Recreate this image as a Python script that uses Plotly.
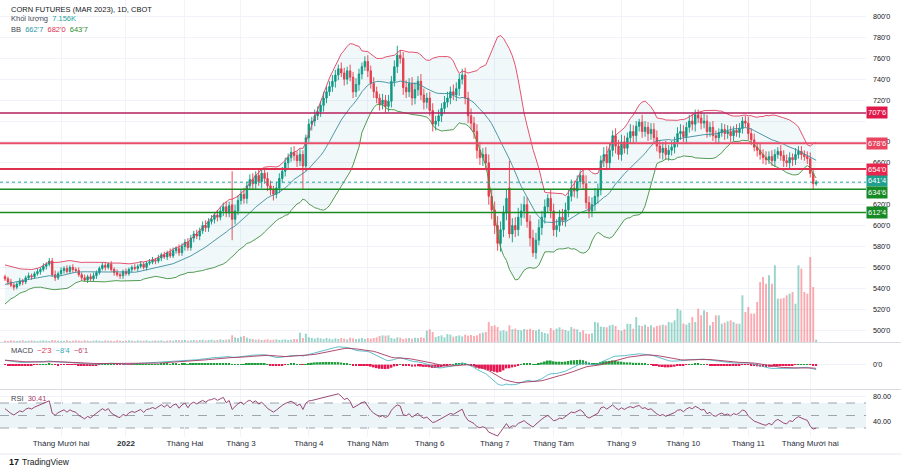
import numpy as np
import pandas as pd
import plotly.graph_objects as go

# ---------------- data ----------------
# closes before the first visible bar (only used to warm up the indicators)
WARM = [512, 515, 514, 518, 516, 520, 522, 519, 524, 527, 525, 529, 532, 530, 528, 533, 536, 534, 530, 527,
        524, 526, 529, 533, 531, 535, 538, 541, 537, 540, 544, 548, 546, 552, 556, 554, 558, 553, 550, 552]

CLOSE = [549, 546, 543, 541, 544, 547, 546, 550, 552, 551,
         554, 556, 558, 561, 563, 566, 553, 550, 554, 557,
         559, 556, 560, 558, 557, 553, 550, 548, 551, 549,
         552, 555, 559, 562, 560, 563, 558, 555, 553, 552,
         556, 554, 558, 560, 559, 561, 563, 560, 564, 565,
         567, 566, 569, 572, 570, 574, 571, 576, 578, 574,
         580, 584, 579, 588, 592, 590, 595, 600, 598, 604,
         606, 610, 608, 614, 618, 612, 619, 606, 614, 624,
         630, 626, 638, 644, 640, 648, 642, 650, 645, 638,
         634, 630, 636, 645, 652, 660, 665, 670, 667, 662,
         668, 657, 684, 697, 700, 705, 709, 715, 722, 728,
         733, 738, 744, 750, 746, 740, 748, 742, 728, 735,
         745, 752, 757, 748, 736, 728, 722, 716, 720, 714,
         719, 738, 752, 763, 760, 732, 728, 736, 722, 730,
         738, 725, 718, 722, 710, 697, 700, 705, 712, 718,
         722, 728, 725, 731, 740, 744, 722, 705, 698, 690,
         672, 665, 668, 660, 628, 615, 600, 583, 596, 612,
         626, 592, 600, 596, 608, 614, 620, 604, 588, 574,
         586, 598, 608, 618, 626, 614, 596, 600, 608, 605,
         615, 628, 636, 633, 642, 648, 640, 622, 614, 620,
         628, 634, 662, 668, 660, 672, 686, 676, 668, 680,
         674, 684, 690, 686, 695, 699, 690, 694, 688, 692,
         684, 676, 670, 674, 668, 672, 675, 680, 688, 690,
         685, 694, 700, 697, 706, 703, 698, 700, 690, 694,
         686, 684, 689, 692, 688, 690, 686, 691, 689, 693,
         700, 698, 688, 682, 675, 672, 668, 665, 663, 666,
         662, 668, 671, 667, 662, 660, 665, 663, 668, 671,
         668, 666, 664, 650, 640, 641.5]

OPEN = [551, 549, 546, 543, 541, 544, 547, 546, 550, 552,
        551, 554, 556, 558, 561, 563, 566, 553, 550, 554,
        557, 559, 556, 560, 558, 557, 553, 550, 548, 551,
        549, 552, 555, 559, 562, 560, 563, 558, 555, 553,
        552, 556, 554, 558, 560, 559, 561, 563, 560, 564,
        565, 567, 566, 569, 572, 570, 574, 571, 576, 578,
        574, 580, 584, 579, 588, 592, 590, 595, 600, 598,
        604, 606, 610, 608, 614, 618, 612, 620, 606, 614,
        624, 630, 626, 638, 644, 640, 648, 642, 650, 645,
        638, 634, 630, 636, 645, 652, 660, 665, 670, 667,
        662, 668, 657, 684, 697, 700, 705, 709, 715, 722,
        728, 733, 738, 744, 750, 746, 740, 748, 742, 728,
        735, 745, 752, 757, 748, 736, 728, 722, 716, 720,
        714, 719, 738, 752, 763, 760, 732, 728, 736, 722,
        730, 738, 725, 718, 722, 710, 697, 700, 705, 712,
        718, 722, 728, 725, 731, 740, 744, 722, 705, 698,
        690, 672, 665, 668, 660, 628, 615, 600, 583, 596,
        612, 636, 592, 600, 596, 608, 614, 620, 604, 588,
        574, 586, 598, 608, 618, 626, 614, 596, 600, 608,
        605, 615, 628, 636, 633, 642, 648, 640, 622, 614,
        620, 628, 634, 662, 668, 660, 672, 686, 676, 668,
        680, 674, 684, 690, 686, 695, 699, 690, 694, 688,
        692, 684, 676, 670, 674, 668, 672, 675, 680, 688,
        690, 685, 694, 700, 697, 706, 703, 698, 700, 690,
        694, 686, 684, 689, 692, 688, 690, 686, 691, 689,
        693, 700, 698, 688, 682, 675, 672, 668, 665, 663,
        666, 662, 668, 671, 667, 662, 660, 665, 663, 668,
        671, 668, 666, 664, 650, 640]

# upper / lower wick lengths of each candle
UPPER_WICK = [2, 2, 3, 2, 2, 3, 2, 2, 3, 2, 2, 3, 2, 3, 2, 3, 3, 4, 2, 3,
              2, 3, 2, 3, 2, 3, 2, 3, 2, 3, 3, 2, 2, 3, 3, 2, 3, 2, 3, 2,
              2, 3, 2, 2, 3, 2, 3, 2, 2, 3, 3, 2, 3, 2, 3, 2, 4, 3, 2, 4,
              3, 3, 4, 3, 3, 4, 3, 4, 5, 3, 4, 3, 5, 4, 4, 5, 4, 32, 6, 5,
              5, 6, 4, 5, 6, 4, 6, 5, 4, 6, 5, 4, 6, 5, 4, 5, 4, 5, 6, 4,
              5, 4, 3, 5, 4, 6, 5, 4, 6, 5, 5, 6, 5, 4, 6, 5, 4, 6, 5, 6,
              5, 4, 5, 6, 5, 6, 5, 4, 6, 5, 6, 5, 6, 9, 5, 6, 7, 5, 6, 7,
              5, 7, 6, 5, 6, 7, 5, 6, 5, 6, 6, 5, 7, 6, 5, 6, 7, 6, 7, 6,
              7, 8, 6, 7, 8, 7, 8, 9, 8, 7, 8, 26, 7, 8, 9, 7, 8, 7, 6, 8,
              7, 8, 6, 7, 4, 8, 7, 6, 7, 8, 7, 6, 8, 7, 6, 5, 7, 8, 6, 7,
              8, 6, 5, 7, 8, 6, 5, 7, 6, 7, 6, 5, 7, 6, 5, 3, 7, 6, 5, 6,
              6, 7, 5, 6, 7, 5, 6, 5, 6, 7, 6, 5, 6, 7, 5, 5, 6, 7, 6, 5,
              6, 5, 4, 6, 5, 6, 5, 4, 6, 5, 4, 5, 6, 5, 6, 5, 6, 5, 6, 5,
              6, 5, 4, 6, 5, 6, 5, 4, 6, 5, 5, 4, 5, 6, 4, 2]
LOWER_WICK = [2, 3, 2, 3, 2, 2, 3, 2, 2, 3, 2, 2, 3, 2, 3, 2, 2, 3, 2, 2,
              3, 2, 2, 3, 2, 2, 3, 2, 3, 2, 2, 3, 2, 2, 3, 2, 2, 3, 2, 3,
              3, 2, 2, 3, 2, 3, 2, 2, 3, 2, 2, 3, 2, 3, 2, 3, 2, 2, 3, 3,
              3, 4, 3, 3, 4, 3, 4, 3, 4, 4, 3, 4, 4, 3, 5, 4, 4, 20, 5, 4,
              4, 5, 5, 4, 6, 5, 4, 6, 5, 5, 5, 6, 4, 5, 4, 5, 6, 4, 5, 6,
              5, 22, 5, 4, 6, 5, 4, 5, 6, 5, 4, 5, 6, 5, 4, 6, 5, 4, 6, 5,
              6, 5, 4, 6, 5, 6, 5, 6, 5, 6, 5, 6, 5, 6, 5, 7, 6, 5, 7, 6,
              6, 5, 7, 6, 5, 7, 6, 5, 6, 5, 5, 6, 5, 6, 7, 5, 6, 7, 6, 7,
              8, 7, 8, 7, 8, 9, 8, 7, 8, 7, 7, 4, 8, 7, 6, 8, 7, 6, 8, 4,
              6, 5, 7, 6, 5, 7, 6, 7, 6, 5, 6, 7, 5, 6, 7, 6, 5, 6, 7, 6,
              6, 7, 5, 6, 7, 5, 6, 7, 5, 6, 5, 6, 5, 7, 6, 5, 6, 5, 7, 6,
              6, 5, 6, 7, 5, 6, 5, 6, 5, 6, 5, 6, 5, 6, 7, 5, 6, 5, 6, 5,
              5, 6, 5, 4, 6, 5, 6, 5, 4, 5, 5, 4, 6, 5, 4, 6, 5, 6, 5, 4,
              5, 6, 4, 5, 6, 4, 5, 6, 5, 4, 5, 4, 5, 4, 6, 2]

# volume in thousands of contracts
VOLUME = [4, 3, 5, 4, 3, 4, 5, 3, 4, 5, 4, 3, 4, 5, 4, 3, 6, 5, 4, 3,
          4, 5, 3, 4, 5, 4, 3, 5, 4, 3, 4, 5, 4, 3, 5, 4, 4, 3, 5, 4,
          3, 4, 5, 4, 3, 5, 4, 4, 5, 3, 4, 5, 4, 5, 3, 4, 5, 4, 6, 5,
          5, 6, 4, 5, 6, 5, 6, 7, 5, 6, 7, 5, 6, 8, 6, 7, 8, 20, 14, 12,
          16, 18, 13, 10, 9, 7, 8, 6, 7, 8, 6, 7, 8, 6, 7, 8, 6, 7, 9, 8,
          28, 12, 25, 14, 12, 10, 13, 11, 9, 12, 10, 8, 11, 9, 12, 10, 8, 13, 11, 9,
          10, 12, 9, 11, 10, 12, 14, 18, 20, 19, 20, 12, 10, 14, 13, 9, 11, 12, 10, 13,
          11, 14, 12, 34, 38, 30, 15, 18, 20, 14, 24, 22, 16, 18, 20, 17, 22, 19, 21, 18,
          20, 26, 28, 30, 60, 48, 50, 45, 33, 35, 32, 50, 38, 40, 36, 35, 39, 37, 40, 36,
          34, 38, 30, 27, 25, 42, 35, 40, 44, 38, 36, 33, 45, 40, 38, 30, 35, 25, 24, 26,
          60, 58, 46, 45, 44, 50, 52, 48, 36, 34, 38, 55, 54, 40, 75, 50, 48, 52, 46, 50,
          44, 48, 50, 52, 50, 60, 58, 65, 100, 95, 55, 52, 58, 75, 60, 100, 80, 95, 90, 50,
          60, 80, 80, 55, 58, 62, 65, 60, 55, 55, 140, 90, 105, 85, 85, 120, 180, 195, 175, 200,
          175, 230, 130, 130, 132, 140, 145, 150, 115, 230, 220, 150, 145, 255, 165, 7.156]

MONTH_IDX = [19, 41, 61, 80, 103, 123, 144, 166, 186, 209, 230, 252, 273]
MONTH_LABELS = ["Tháng Mười hai", "<b>2022</b>", "Tháng Hai", "Tháng 3", "Tháng 4", "Tháng Năm",
                "Tháng 6", "Tháng 7", "Tháng Tám", "Tháng 9", "Tháng 10", "Tháng 11", "Tháng Mười hai"]

PRICE_TICKS = [500, 520, 540, 560, 580, 600, 620, 640, 660, 680, 700, 720, 740, 760, 780, 800]
# 640'0 and 700'0 sit under the level labels on the price scale, so they are not shown
PRICE_TICK_TEXT = ["" if v in (640, 700) else "%d'0" % v for v in PRICE_TICKS]

LEVELS = [707.75, 678.75, 654.0, 634.75, 612.5]
LEVEL_TEXT = ["707'6", "678'6", "654'0", "634'6", "612'4"]
LEVEL_LINE_COLORS = ["#b3205c", "#e84d69", "#e0304f", "#1b8a22", "#1b8a22"]
LEVEL_BOX_COLORS = ["#e0194b", "#e8455f", "#e8264d", "#168a25", "#168a25"]
LEVEL_WIDTHS = [1.5, 2.2, 2.0, 1.5, 1.5]
LEVEL_LABEL_SHIFT = [0, 0, 0, -3.5, 0]
LAST_PRICE = 641.5
LAST_PRICE_TEXT = "641'4"

# ---------------- indicators ----------------
n = len(CLOSE)
idx = np.arange(n)
o = np.array(OPEN, float)
c = np.array(CLOSE, float)
hi = np.maximum(o, c) + np.array(UPPER_WICK, float)
lo = np.minimum(o, c) - np.array(LOWER_WICK, float)

allc = pd.Series(WARM + CLOSE, dtype=float)
basis = allc.rolling(20).mean()
sd = allc.rolling(20).std(ddof=0)
upper = (basis + 2 * sd).values[-n:]
lower = (basis - 2 * sd).values[-n:]
basis = basis.values[-n:]

ema12 = allc.ewm(span=12, adjust=False).mean()
ema26 = allc.ewm(span=26, adjust=False).mean()
macd_s = ema12 - ema26
sig_s = macd_s.ewm(span=9, adjust=False).mean()
macd = macd_s.values[-n:]
sig = sig_s.values[-n:]
hist = macd - sig

d = allc.diff()
gain = d.clip(lower=0).ewm(alpha=1 / 14, adjust=False).mean()
loss = (-d.clip(upper=0)).ewm(alpha=1 / 14, adjust=False).mean()
rsi = (100 - 100 / (1 + gain / loss)).values[-n:]

# ---------------- figure ----------------
W, H = 901, 468
PW, PH = 866, 437


def px(x):
    return x / PW


def py(y):
    return (PH - y) / PH


UP = "#089981"
DN = "#f23645"
FONT = "Liberation Sans, Arial, sans-serif"
TXT = "#131722"
GRID = "#f0f3fa"

fig = go.Figure()

# Bollinger bands
fig.add_trace(go.Scatter(x=idx, y=upper, xaxis="x3", yaxis="y", mode="lines",
                         line=dict(color="#e0405f", width=0.9), hoverinfo="skip"))
fig.add_trace(go.Scatter(x=idx, y=lower, xaxis="x3", yaxis="y", mode="lines",
                         line=dict(color="#3f8f3f", width=0.9), fill="tonexty",
                         fillcolor="rgba(70,160,170,0.075)", hoverinfo="skip"))
fig.add_trace(go.Scatter(x=idx, y=basis, xaxis="x3", yaxis="y", mode="lines",
                         line=dict(color="#3d8c9c", width=0.9), hoverinfo="skip"))

# candles
fig.add_trace(go.Candlestick(x=idx, open=o, high=hi, low=lo, close=c, xaxis="x3", yaxis="y",
                             increasing=dict(line=dict(color=UP, width=0.9), fillcolor=UP),
                             decreasing=dict(line=dict(color=DN, width=0.9), fillcolor=DN),
                             whiskerwidth=0, hoverinfo="skip"))

# volume overlay
vcol = ["rgba(8,153,129,0.42)" if cc >= oo else "rgba(242,54,69,0.42)" for oo, cc in zip(o, c)]
fig.add_trace(go.Bar(x=idx, y=VOLUME, xaxis="x3", yaxis="y4", marker=dict(color=vcol, line=dict(width=0)),
                     hoverinfo="skip"))

# MACD
hcol = ["#1f9d3a" if v >= 0 else "#e8174f" for v in hist]
fig.add_trace(go.Bar(x=idx, y=hist, xaxis="x2", yaxis="y2", marker=dict(color=hcol, line=dict(width=0)),
                     hoverinfo="skip"))
fig.add_trace(go.Scatter(x=idx, y=macd, xaxis="x2", yaxis="y2", mode="lines",
                         line=dict(color="#4fb6c6", width=0.9), hoverinfo="skip"))
fig.add_trace(go.Scatter(x=idx, y=sig, xaxis="x2", yaxis="y2", mode="lines",
                         line=dict(color="#a8385e", width=0.9), hoverinfo="skip"))

# RSI
fig.add_trace(go.Scatter(x=idx, y=rsi, xaxis="x", yaxis="y3", mode="lines",
                         line=dict(color="#8e3564", width=0.9), hoverinfo="skip"))

mlo = min(np.min(macd), np.min(sig), np.min(hist))
mhi = max(np.max(macd), np.max(sig), np.max(hist))
mpad = (mhi - mlo) * 0.1

xr = [-1.7, 291.9]
xcommon = dict(range=xr, tickvals=MONTH_IDX, showgrid=True, gridcolor=GRID, gridwidth=1,
               zeroline=False, showline=False, ticks="", fixedrange=True)

fig.update_layout(
    width=W, height=H, margin=dict(l=0, r=W - PW, t=0, b=H - PH),
    paper_bgcolor="white", plot_bgcolor="white", showlegend=False,
    font=dict(family=FONT, color=TXT, size=8), bargap=0.35, hovermode=False,
    xaxis=dict(domain=[0, 1], anchor="y3", ticktext=MONTH_LABELS, tickfont=dict(size=8, color="#2a2e39"),
               rangeslider=dict(visible=False), **xcommon),
    xaxis2=dict(domain=[0, 1], anchor="y2", matches="x", showticklabels=False, **xcommon),
    xaxis3=dict(domain=[0, 1], anchor="y", matches="x", showticklabels=False,
                rangeslider=dict(visible=False), **xcommon),
    yaxis=dict(domain=[py(342), 1], anchor="x3", side="right", range=[488.6, 815.8],
               tickvals=PRICE_TICKS, ticktext=PRICE_TICK_TEXT, showgrid=True, gridcolor=GRID,
               zeroline=False, ticks="", ticklabelstandoff=6, tickfont=dict(size=7.2), fixedrange=True),
    yaxis4=dict(overlaying="y", anchor="x3", range=[0, 255 * 342 / 85], visible=False, fixedrange=True),
    yaxis2=dict(domain=[py(389), py(343)], anchor="x2", side="right", range=[mlo - mpad, mhi + mpad],
                tickvals=[0], ticktext=["0'0"], showgrid=True, gridcolor=GRID, zeroline=False,
                ticks="", ticklabelstandoff=6, tickfont=dict(size=7.2), fixedrange=True),
    yaxis3=dict(domain=[0, py(390)], anchor="x", side="right", range=[15.6, 90.8],
                tickvals=[40, 80], ticktext=["40.00", "80.00"], showgrid=True, gridcolor=GRID,
                zeroline=False, ticks="", ticklabelstandoff=6, tickfont=dict(size=7.2), fixedrange=True),
)

shapes = []
# RSI band
shapes.append(dict(type="rect", xref="paper", yref="y3", x0=0, x1=1, y0=30, y1=70,
                   fillcolor="rgba(120,180,200,0.15)", line=dict(width=0), layer="below"))
for lvl in (70, 50, 30):
    shapes.append(dict(type="line", xref="paper", yref="y3", x0=0, x1=1, y0=lvl, y1=lvl,
                       line=dict(color="#8a8e99", width=0.8, dash="dash"), layer="below"))
# pane separators
for yy in (342.5, 389.5):
    shapes.append(dict(type="line", xref="paper", yref="paper", x0=0, x1=W / PW, y0=py(yy), y1=py(yy),
                       line=dict(color="#d9dce3", width=1)))
shapes.append(dict(type="line", xref="paper", yref="paper", x0=0, x1=W / PW, y0=py(454), y1=py(454),
                   line=dict(color="#e6e8ee", width=1)))
# horizontal levels
for lvl, lc, lw in zip(LEVELS, LEVEL_LINE_COLORS, LEVEL_WIDTHS):
    shapes.append(dict(type="line", xref="paper", yref="y", x0=0, x1=1, y0=lvl, y1=lvl,
                       line=dict(color=lc, width=lw), layer="above"))
shapes.append(dict(type="line", xref="paper", yref="y", x0=0, x1=1, y0=LAST_PRICE, y1=LAST_PRICE,
                   line=dict(color="#26a69a", width=1, dash="dot"), layer="above"))
fig.update_layout(shapes=shapes)

ann = []
ann.append(dict(xref="paper", yref="y", x=1.0, y=LAST_PRICE, xanchor="left", yanchor="middle",
                text=LAST_PRICE_TEXT, showarrow=False, bgcolor="#1fa08f", borderpad=1, yshift=1.5,
                font=dict(size=7.5, color="white", family=FONT)))
for lvl, txt, bc, sh in zip(LEVELS, LEVEL_TEXT, LEVEL_BOX_COLORS, LEVEL_LABEL_SHIFT):
    ann.append(dict(xref="paper", yref="y", x=1.0, y=lvl, xanchor="left", yanchor="middle",
                    text=txt, showarrow=False, bgcolor=bc, borderpad=1, yshift=sh,
                    font=dict(size=7.5, color="white", family=FONT)))


def label(x, y, text, size=7.5, color=TXT):
    ann.append(dict(xref="paper", yref="paper", x=px(x), y=py(y), xanchor="left", yanchor="middle",
                    text=text, showarrow=False, font=dict(size=size, color=color, family=FONT)))


label(9, 9, "CORN FUTURES (MAR 2023), 1D, CBOT")
label(9, 19, "Khối lượng  <span style='color:#26a69a'>7.156K</span>", color="#434651")
label(9, 29, "BB  <span style='color:#2f97a8'>662'7</span>  <span style='color:#e0304f'>682'0</span>"
             "  <span style='color:#2e8b2e'>643'7</span>", color="#434651")
label(9, 350, "MACD  <span style='color:#e0304f'>−2'3</span>  <span style='color:#2fa8b8'>−8'4</span>"
              "  <span style='color:#c0406a'>−6'1</span>", color="#434651")
label(9, 398, "RSI  <span style='color:#a83a6a'>30.41</span>", color="#434651")
label(7, 462, "<b>17</b>", size=9, color="#131722")
label(20, 462, "TradingView", size=8.5, color="#131722")
fig.update_layout(annotations=ann)

fig.write_html("out.html")
